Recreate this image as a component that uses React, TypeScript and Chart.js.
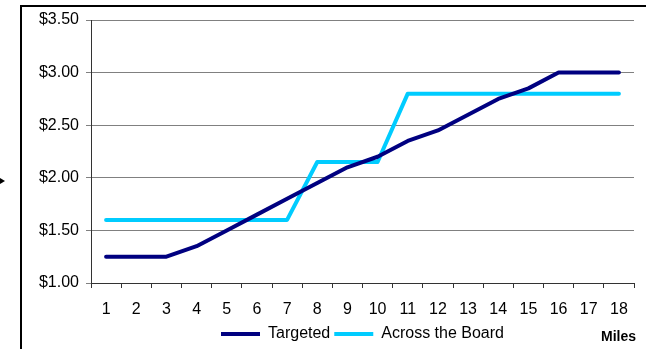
import React, { useEffect, useRef } from "react";
import { Chart, registerables } from "chart.js";

Chart.register(...registerables);

const miles = ["1","2","3","4","5","6","7","8","9","10","11","12","13","14","15","16","17","18"];
const targeted = [1.25, 1.25, 1.25, 1.35, 1.5, 1.65, 1.8, 1.95, 2.1, 2.2, 2.35, 2.45, 2.6, 2.75, 2.85, 3.0, 3.0, 3.0];
const acrossTheBoard = [1.6, 1.6, 1.6, 1.6, 1.6, 1.6, 1.6, 2.15, 2.15, 2.15, 2.8, 2.8, 2.8, 2.8, 2.8, 2.8, 2.8, 2.8];
const seriesNames = ["Targeted", "Across the Board"];
const axisTitle = "Miles";
const yMin = 1;
const yMax = 3.5;
const yStep = 0.5;

const FONT = 'Arial, "Liberation Sans", sans-serif';

export default function App() {
  const ref = useRef<HTMLCanvasElement | null>(null);

  useEffect(() => {
    if (!ref.current) return;
    const milesPlugin = {
      id: "milesLabel",
      afterDraw(chart: any) {
        const ctx = chart.ctx;
        ctx.save();
        ctx.font = "bold 14px " + FONT;
        ctx.fillStyle = "#000";
        ctx.textAlign = "right";
        ctx.textBaseline = "alphabetic";
        ctx.fillText(axisTitle, chart.chartArea.right + 2, 341);
        ctx.restore();
      },
    };
    const chart = new Chart(ref.current, {
      type: "line",
      data: {
        labels: miles,
        datasets: [
          {
            label: seriesNames[0],
            data: targeted,
            borderColor: "#000080",
            backgroundColor: "#000080",
            borderWidth: 4,
            pointRadius: 0,
            borderJoinStyle: "round",
            borderCapStyle: "round",
            tension: 0,
          },
          {
            label: seriesNames[1],
            data: acrossTheBoard,
            borderColor: "#00CCFF",
            backgroundColor: "#00CCFF",
            borderWidth: 4,
            pointRadius: 0,
            borderJoinStyle: "round",
            borderCapStyle: "round",
            tension: 0,
          },
        ],
      },
      options: {
        animation: false,
        responsive: false,
        maintainAspectRatio: false,
        devicePixelRatio: 1,
        layout: { padding: { left: 0, right: 12, top: 20, bottom: 0 } },
        font: { family: FONT, size: 16 },
        plugins: {
          tooltip: { enabled: false },
          legend: {
            position: "bottom",
            fullSize: false,
            labels: {
              color: "#000",
              font: { family: FONT, size: 16 },
              boxWidth: 39,
              boxHeight: 4,
              padding: 4,
              generateLabels: (chart: any) =>
                Chart.defaults.plugins.legend.labels
                  .generateLabels(chart)
                  .map((l: any) => ({ ...l, lineWidth: 0, fillStyle: l.strokeStyle })),
            },
          },
        },
        scales: {
          x: {
            offset: true,
            grid: {
              offset: true,
              drawOnChartArea: false,
              drawTicks: true,
              tickLength: 5,
              color: "#333",
            },
            border: { color: "#333", width: 1 },
            ticks: {
              color: "#000",
              font: { family: FONT, size: 16 },
              padding: 12,
              autoSkip: false,
              maxRotation: 0,
            },
            afterFit: (s: any) => {
              s.height = 39;
            },
          },
          y: {
            min: yMin,
            max: yMax,
            grid: {
              color: "#808080",
              drawTicks: true,
              tickLength: 5,
            },
            border: { color: "#333", width: 1 },
            ticks: {
              stepSize: yStep,
              color: "#000",
              font: { family: FONT, size: 16 },
              padding: 7,
              callback: (v: any) => "$" + Number(v).toFixed(2),
            },
            afterFit: (s: any) => {
              s.width = 91;
            },
          },
        },
      },
      plugins: [milesPlugin],
    } as any);
    return () => chart.destroy();
  }, []);

  return (
    <div
      style={{
        position: "fixed",
        left: 0,
        top: 0,
        width: 646,
        height: 349,
        overflow: "hidden",
        background: "#fff",
      }}
    >
      <canvas
        ref={ref}
        width={646}
        height={352}
        style={{ position: "absolute", left: 0, top: 0, width: 646, height: 352 }}
      />
      <div
        style={{
          position: "absolute",
          left: 20,
          top: 5,
          width: 700,
          height: 400,
          borderLeft: "2px solid #000",
          borderTop: "2px solid #000",
          pointerEvents: "none",
        }}
      />
      <div
        style={{
          position: "absolute",
          left: 0,
          top: 178,
          width: 0,
          height: 0,
          borderTop: "3px solid transparent",
          borderBottom: "3px solid transparent",
          borderLeft: "5px solid #000",
        }}
      />
    </div>
  );
}
